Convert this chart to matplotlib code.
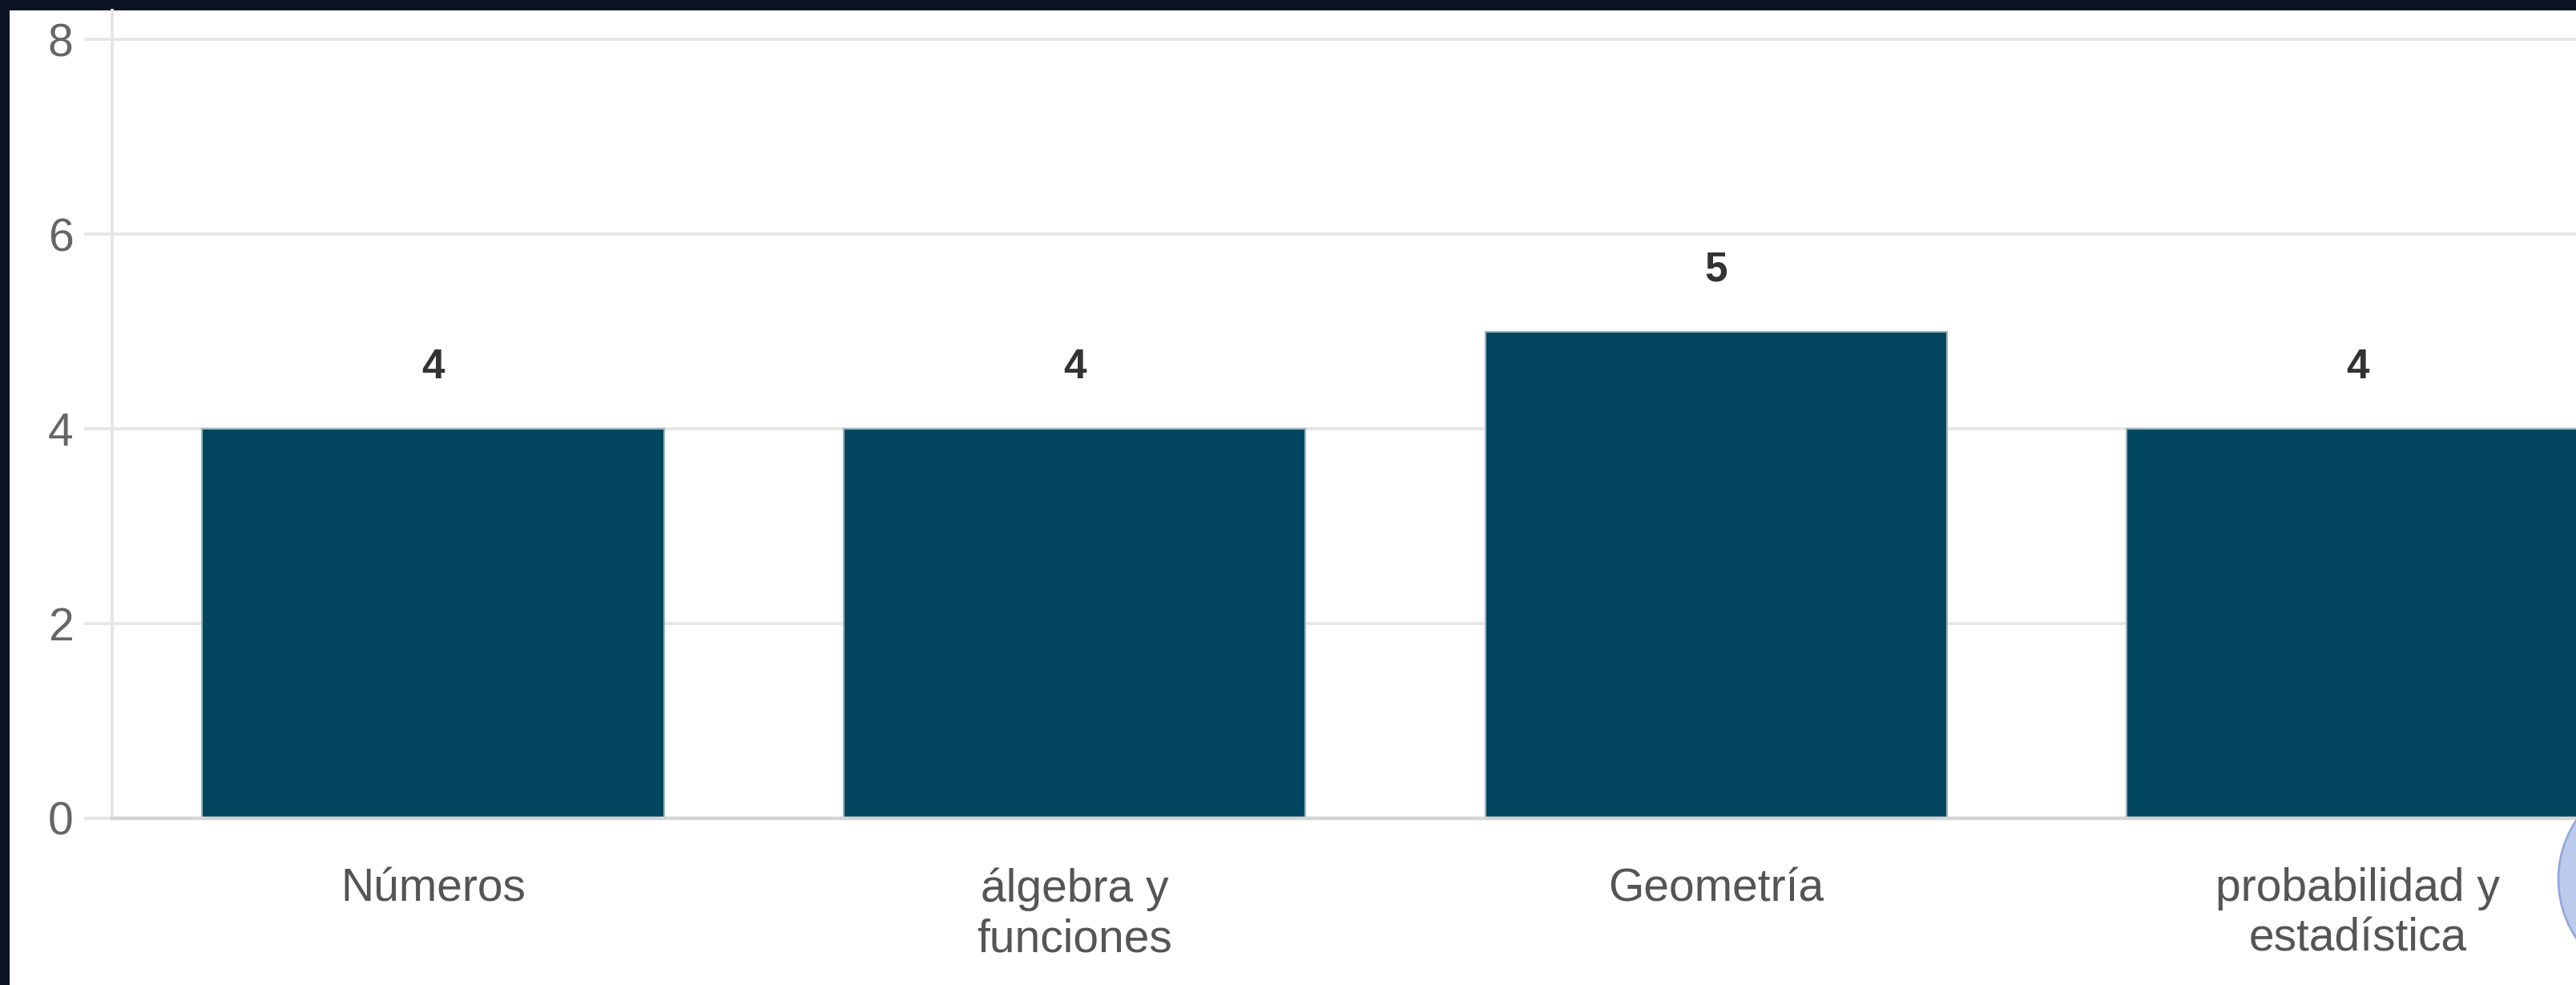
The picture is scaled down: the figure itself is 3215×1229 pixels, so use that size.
import matplotlib

matplotlib.use("Agg")
import matplotlib.pyplot as plt
from matplotlib.patches import Ellipse, Rectangle

categories = ["Números", "álgebra y\nfunciones", "Geometría", "probabilidad y\nestadística"]
values = [4, 4, 5, 4]
yticks = [0, 2, 4, 6, 8]

BAR = "#01465e"
GRID = "#e6e6e6"
W, H = 3215, 1229

plt.rcParams["font.family"] = ["Liberation Sans", "DejaVu Sans"]

fig = plt.figure(figsize=(W / 100, H / 100), dpi=100, facecolor="#0b1322")
# white panel (screenshot frame: dark border on left and top)
fig.patches.append(Rectangle((12 / W, 0), 1, 1 - 13 / H, transform=fig.transFigure,
                             facecolor="white", edgecolor="none", zorder=-1))

ax = fig.add_axes([140 / W, 208 / H, 1 - 140 / W, 1008 / H])
ax.set_facecolor("none")
x = range(len(categories))
ax.bar(x, values, width=0.72, color=BAR, edgecolor="#9db3bd", linewidth=1.5, zorder=3)
for xi, v in zip(x, values):
    ax.text(xi, v + 0.63, str(v), ha="center", va="center", fontsize=37,
            fontweight="bold", color="#333333")

ax.set_xlim(-0.5, 3.34)
ax.set_ylim(0, 8.3)
ax.set_yticks(yticks)
ax.set_xticks(list(x))
ax.set_xticklabels(categories, fontsize=41, color="#555555", linespacing=1.2)
ax.tick_params(axis="x", length=0, pad=44)
ax.tick_params(axis="y", length=25, width=2.8, color=GRID, labelsize=41,
               labelcolor="#666666", pad=10)
ax.grid(axis="y", color=GRID, linewidth=2.8, zorder=0)
ax.set_axisbelow(True)
for side in ("top", "right"):
    ax.spines[side].set_visible(False)
ax.spines["left"].set_color(GRID)
ax.spines["left"].set_linewidth(2.8)
ax.spines["bottom"].set_color("#d4d4d4")
ax.spines["bottom"].set_linewidth(3.2)
ax.spines["bottom"].set_zorder(4)

# partially visible round button at bottom right
fig.patches.append(Ellipse((3325 / W, 1 - 1097 / H), 2 * 132 / W, 2 * 132 / H,
                           transform=fig.transFigure, facecolor="#bccaec",
                           edgecolor="#94a8dc", linewidth=2, zorder=5))

fig.savefig("out.png", dpi=100, facecolor=fig.get_facecolor())
